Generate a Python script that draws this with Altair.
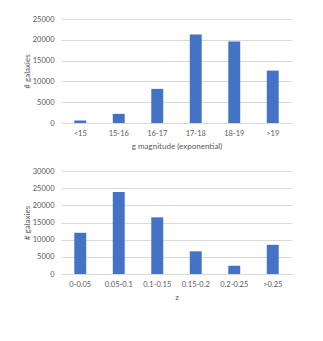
import altair as alt
import pandas as pd

mag_bins = ["<15", "15-16", "16-17", "17-18", "18-19", ">19"]
mag_counts = [600, 2200, 8200, 21300, 19600, 12600]

z_bins = ["0-0.05", "0.05-0.1", "0.1-0.15", "0.15-0.2", "0.2-0.25", ">0.25"]
z_counts = [12000, 23900, 16500, 6600, 2400, 8500]

df_mag = pd.DataFrame({"bin": mag_bins, "count": mag_counts})
df_z = pd.DataFrame({"bin": z_bins, "count": z_counts})

BLUE = "#4472C4"
FONT = "Lato"


def panel(df, order, xtitle, ymax, ystep, height):
    return alt.Chart(df).mark_bar(color=BLUE).encode(
        x=alt.X("bin:N", sort=order, title=xtitle,
                scale=alt.Scale(paddingInner=0.69, paddingOuter=0.345),
                axis=alt.Axis(labelAngle=0, domain=True, domainColor="#D9D9D9",
                              ticks=False, labelPadding=6, labelBaseline="top",
                              titleY=23, titleBaseline="middle")),
        y=alt.Y("count:Q", title="# galaxies",
                scale=alt.Scale(domain=[0, ymax], nice=False),
                axis=alt.Axis(values=list(range(0, ymax + 1, ystep)), domain=False,
                              format="d", ticks=False, labelPadding=7,
                              titleX=-34, titleBaseline="middle",
                              gridColor="#D9D9D9")),
    ).properties(width=231, height=height)


top = panel(df_mag, mag_bins, "g magnitude (exponential)", 25000, 5000, 104)
bottom = panel(df_z, z_bins, "z", 30000, 5000, 103)

chart = alt.vconcat(top, bottom, spacing=48, bounds="flush").properties(
    padding={"left": 15, "top": 7, "right": 5, "bottom": 5},
).configure_view(stroke=None).configure_axis(
    labelFont=FONT, titleFont=FONT, labelFontSize=7.5, titleFontSize=8,
    labelColor="#595959", titleColor="#595959", titleFontWeight="normal",
)

chart.save("out.html", embed_options={"renderer": "svg", "actions": False})
